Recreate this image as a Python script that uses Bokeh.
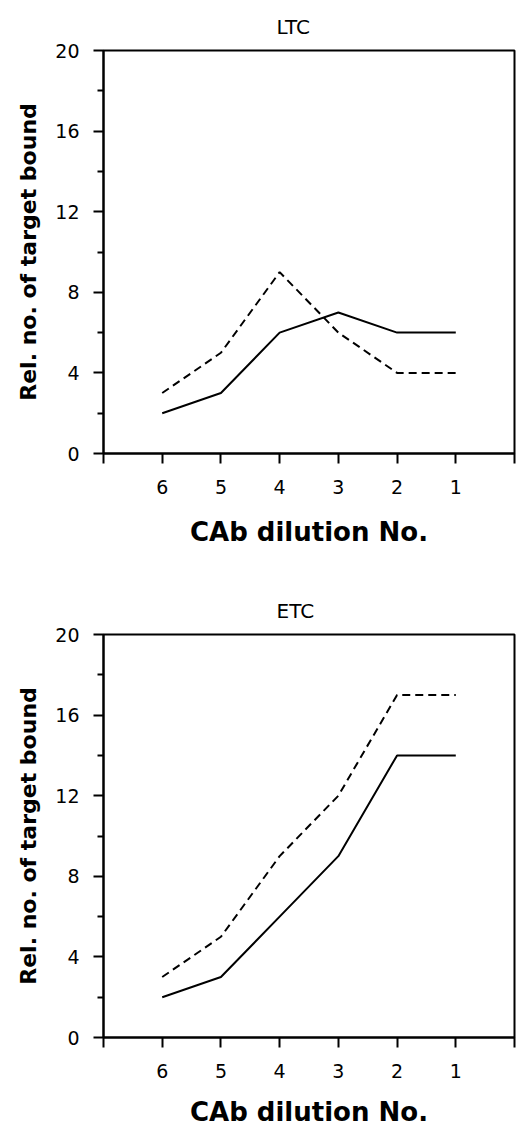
from bokeh.plotting import figure
from bokeh.models import Range1d, FixedTicker
from bokeh.layouts import column
from bokeh.embed import file_html
from bokeh.resources import INLINE

# ---- data ----
dilution = [6, 5, 4, 3, 2, 1]
ltc_solid = [2, 3, 6, 7, 6, 6]
ltc_dashed = [3, 5, 9, 6, 4, 4]
etc_solid = [2, 3, 6, 9, 14, 14]
etc_dashed = [3, 5, 9, 12, 17, 17]
panel_titles = ["LTC", "ETC"]
x_ticks = [0, 1, 2, 3, 4, 5, 6, 7]
x_tick_labels = ["", "1", "2", "3", "4", "5", "6", ""]
y_ticks = [0, 4, 8, 12, 16, 20]
y_minor_ticks = [2, 6, 10, 14, 18]
x_label = "CAb dilution No."
y_label = "Rel. no. of target bound"

FONT = "DejaVu Sans"


def make_panel(title, solid, dashed, height, border_bottom, xlab_standoff):
    p = figure(width=516, height=height, output_backend="svg", toolbar_location=None,
               x_range=Range1d(7, 0), y_range=Range1d(0, 20),
               min_border_left=103, min_border_right=2, min_border_top=38,
               min_border_bottom=border_bottom)
    p.title.text = title
    p.title.align = "left"
    p.title.offset = 173
    p.title.text_font = FONT
    p.title.text_font_size = "20px"
    p.title.text_font_style = "normal"
    p.title.text_color = "black"
    p.title.standoff = 24
    p.xgrid.visible = False
    p.ygrid.visible = False
    p.outline_line_color = "black"
    p.outline_line_width = 2
    p.background_fill_color = "white"
    p.border_fill_color = "white"

    p.line(dilution, solid, line_color="black", line_width=2)
    p.line(dilution, dashed, line_color="black", line_width=2, line_dash="8 5")

    xa = p.xaxis[0]
    xa.ticker = FixedTicker(ticks=x_ticks, minor_ticks=[])
    xa.major_label_overrides = {t: lab for t, lab in zip(x_ticks, x_tick_labels)}
    xa.axis_line_width = 2
    xa.major_tick_line_width = 2
    xa.major_tick_out = 10
    xa.major_tick_in = 0
    xa.major_label_standoff = 16
    xa.major_label_text_font = FONT
    xa.major_label_text_font_size = "19px"
    xa.major_label_text_color = "black"
    xa.axis_label = x_label
    xa.axis_label_text_font = FONT
    xa.axis_label_text_font_size = "26px"
    xa.axis_label_text_font_style = "bold"
    xa.axis_label_text_color = "black"
    xa.axis_label_standoff = xlab_standoff

    ya = p.yaxis[0]
    ya.ticker = FixedTicker(ticks=y_ticks, minor_ticks=y_minor_ticks)
    ya.axis_line_width = 2
    ya.major_tick_line_width = 2
    ya.minor_tick_line_width = 2
    ya.major_tick_out = 10
    ya.major_tick_in = 0
    ya.minor_tick_out = 6
    ya.minor_tick_in = 0
    ya.major_label_standoff = 14
    ya.major_label_text_font = FONT
    ya.major_label_text_font_size = "19px"
    ya.major_label_text_color = "black"
    ya.axis_label = y_label
    ya.axis_label_text_font = FONT
    ya.axis_label_text_font_size = "22px"
    ya.axis_label_text_font_style = "bold"
    ya.axis_label_text_color = "black"
    ya.axis_label_standoff = 11
    return p


top = make_panel(panel_titles[0], ltc_solid, ltc_dashed, 584, 131, 20)
bottom = make_panel(panel_titles[1], etc_solid, etc_dashed, 549, 96, 16)

layout = column(top, bottom, spacing=0)
open("out.html", "w").write(file_html(layout, INLINE))
